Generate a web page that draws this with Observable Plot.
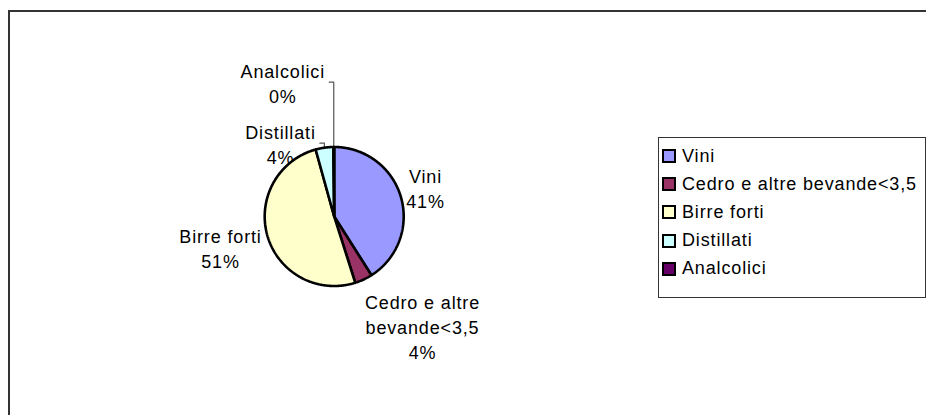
<!DOCTYPE html>
<html><head><meta charset="utf-8">
<script src="https://cdn.jsdelivr.net/npm/d3@7"></script>
<script src="https://cdn.jsdelivr.net/npm/@observablehq/plot@0.6"></script>
<style>
html,body{margin:0;padding:0;background:#fff;width:926px;height:415px;overflow:hidden;font-family:"Liberation Sans",Arial,sans-serif;}
#wrap{position:relative;width:926px;height:415px;overflow:hidden;}
#frame{position:absolute;left:8px;top:10px;width:1000px;height:500px;border-left:2px solid #333;border-top:2px solid #333;}
#chart{position:absolute;left:0;top:0;}
#legend{position:absolute;left:658px;top:137px;width:268px;height:161px;border:1px solid #333;box-sizing:border-box;background:#fff;}
.item{position:absolute;left:3px;height:20px;display:flex;align-items:center;font-size:18px;letter-spacing:0.85px;color:#000;white-space:nowrap;}
.sw{width:10px;height:10px;border:2px solid #000;margin-right:6px;flex:none;}
</style></head><body>
<div id="wrap"><div id="frame"></div><div id="chart"></div><div id="legend"></div></div>
<script>
// ---- data ----
const categories = ["Vini", "Cedro e altre bevande<3,5", "Birre forti", "Distillati", "Analcolici"];
const sliceLabels = ["Vini", "Cedro e altre\nbevande<3,5", "Birre forti", "Distillati", "Analcolici"];
const shares = [41.0, 4.1, 50.6, 4.1, 0.2];
const colors = ["#9999FF", "#993366", "#FFFFCC", "#CCFFFF", "#660066"];

// ---- layout ----
const cx = 333.7, cy = 216, R = 69.5;
// label block centre, px offset from pie centre (+y down)
const labelOffset = {
  "Vini": [91.3, -29.3],
  "Cedro e altre bevande<3,5": [88.3, 109.2],
  "Birre forti": [-113.7, 30.7],
  "Distillati": [-53.7, -73.3],
  "Analcolici": [-51.4, -134.3]
};
const withLeader = ["Distillati", "Analcolici"];

const arcs = d3.pie().sort(null).value(d => d)(shares);
const polar = (a, r) => ({x: r * Math.sin(a), y: r * Math.cos(a)});

const slicePts = [];
arcs.forEach((a, i) => {
  const cat = categories[i];
  slicePts.push({cat, x: 0, y: 0});
  const n = Math.max(2, Math.ceil((a.endAngle - a.startAngle) / (Math.PI / 360)));
  for (let k = 0; k <= n; k++) {
    const t = a.startAngle + (a.endAngle - a.startAngle) * k / n;
    slicePts.push({cat, ...polar(t, 1)});
  }
  slicePts.push({cat, x: 0, y: 0});
});

const labelData = categories.map((c, i) => ({
  cat: c,
  text: `${sliceLabels[i]}\n${Math.round(shares[i])}%`,
  x: labelOffset[c][0] / R,
  y: -labelOffset[c][1] / R
}));

const leaderPts = [];
withLeader.forEach(c => {
  const i = categories.indexOf(c);
  const mid = (arcs[i].startAngle + arcs[i].endAngle) / 2;
  const e = polar(mid, 1);
  const ly = -labelOffset[c][1] / R;
  leaderPts.push({cat: c, x: e.x, y: e.y});
  leaderPts.push({cat: c, x: e.x, y: ly});
  leaderPts.push({cat: c, x: e.x - 4.5 / R, y: ly});
});

const plot = Plot.plot({
  width: 926,
  height: 415,
  margin: 0,
  style: "font-family:'Liberation Sans',Arial,sans-serif;letter-spacing:0.85px;background:transparent;overflow:visible;",
  x: {domain: [-1, 1], range: [cx - R, cx + R], axis: null},
  y: {domain: [-1, 1], range: [cy + R, cy - R], axis: null},
  color: {domain: categories, range: colors},
  marks: [
    Plot.text(labelData, {x: "x", y: "y", text: "text", fontSize: 18, lineHeight: 25 / 18,
      textAnchor: "middle", lineAnchor: "middle", fill: "#000"}),
    Plot.line(leaderPts, {x: "x", y: "y", z: "cat", stroke: "#555", strokeWidth: 1.2, curve: "linear"}),
    Plot.line(slicePts, {x: "x", y: "y", z: "cat", fill: "cat", stroke: "#000", strokeWidth: 2.6,
      strokeLinejoin: "miter", curve: "linear"})
  ]
});
document.getElementById("chart").appendChild(plot);

// legend
const legend = d3.select("#legend");
categories.forEach((c, i) => {
  const it = legend.append("div").attr("class", "item").style("top", (18 + 28.2 * i - 10) + "px");
  it.append("div").attr("class", "sw").style("background", colors[i]);
  it.append("span").text(c);
});
</script>
</body></html>
